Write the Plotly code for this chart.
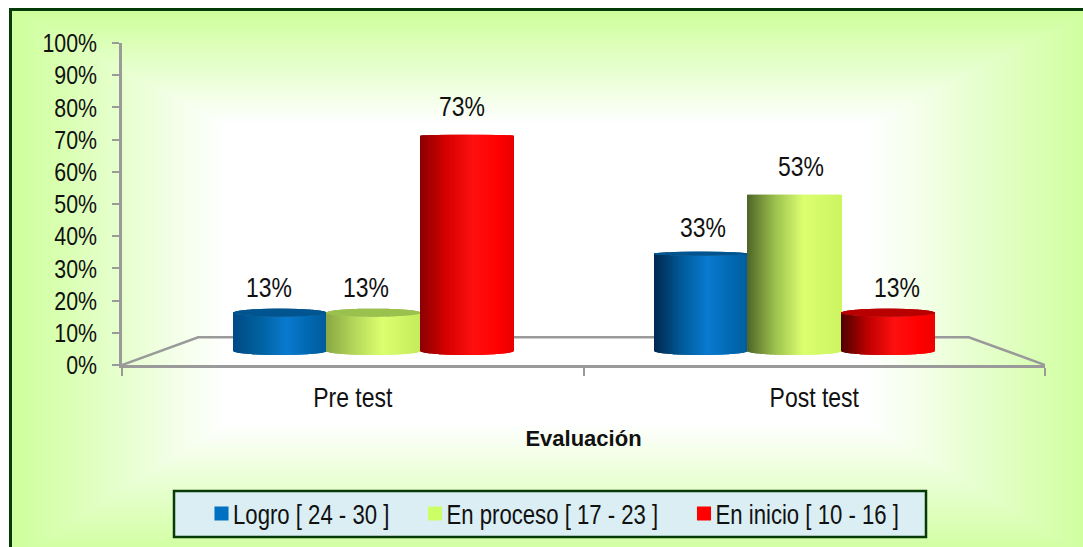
import math
import plotly.graph_objects as go

# ---------- data ----------
categories = ["Pre test", "Post test"]
series_names = ["Logro [ 24 - 30 ]", "En proceso [ 17 - 23 ]", "En inicio [ 10 - 16 ]"]
logro = [13, 33]
en_proceso = [13, 53]
en_inicio = [73, 13]
y_ticks = list(range(0, 101, 10))
y_labels = [f"{v}%" for v in y_ticks]

# ---------- style ----------
W, H = 1083, 547
L, R, T, B = 122, 1045, 43, 365       # plot area in pixels
FONT = "Liberation Sans, Arial"
AXIS = "#9a9a9a"
DARK = "#063a06"
swatch = ["#0070C0", "#CCFF66", "#FF0000"]
ramps = [
    {0: [(0, "#004a86"), (.3, "#00629f"), (.58, "#0a7ad0"), (.85, "#0066ad"), (1, "#005c9c")],
     1: [(0, "#8aa844"), (.3, "#b4d85a"), (.6, "#dcff70"), (1, "#c4ec5c")],
     2: [(0, "#8c0000"), (.3, "#d80000"), (.58, "#ff1010"), (.85, "#ff0000"), (1, "#e80000")]},
    {0: [(0, "#00294f"), (.3, "#005a98"), (.58, "#0a7ad0"), (.85, "#0068b0"), (1, "#005f9f")],
     1: [(0, "#4f6528"), (.3, "#9dc24e"), (.6, "#dcff70"), (1, "#ccf560")],
     2: [(0, "#500000"), (.3, "#c00000"), (.58, "#ff1010"), (.85, "#ff0000"), (1, "#f00000")]},
]
cap_colors = ["#00548f", "#9ac04e", "#b80000"]


def rgb(h):
    return [int(h[i:i + 2], 16) for i in (1, 3, 5)]


def ramp(stops, t):
    for (a, ca), (b, cb) in zip(stops, stops[1:]):
        if t <= b:
            f = (t - a) / (b - a)
            ca, cb = rgb(ca), rgb(cb)
            return "rgb(%d,%d,%d)" % tuple(ca[i] + (cb[i] - ca[i]) * f for i in range(3))
    return stops[-1][1]


def px(x):
    return (x - L) / (R - L)


def py(y):
    return (B - y) / (B - T)


# ---------- background: rectangular gradient built from nested frames ----------
shapes = []
n = 48
c0, c1 = (206, 255, 156), (255, 255, 255)
outer = (12, 11, 1095, 560)
inner = (222, 122, 872, 425)
shapes.append(dict(type="rect", xref="paper", yref="paper", x0=px(9), x1=px(1100), y0=py(8), y1=py(560),
                   fillcolor=DARK, line_width=0, layer="below"))
for i in range(n + 1):
    f = i / n
    box = [outer[k] + (inner[k] - outer[k]) * f for k in range(4)]
    col = "rgb(%d,%d,%d)" % tuple(c0[k] + (c1[k] - c0[k]) * f for k in range(3))
    shapes.append(dict(type="rect", xref="paper", yref="paper", x0=px(box[0]), x1=px(box[2]),
                       y0=py(box[1]), y1=py(box[3]), fillcolor=col, line_width=0, layer="below"))
shapes.append(dict(type="path", xref="x", yref="y", layer="below",
                   path="M -0.5 0 L -0.335 8.6 L 1.335 8.6 L 1.5 0",
                   line=dict(color=AXIS, width=2.5), fillcolor="rgba(0,0,0,0)"))
shapes.append(dict(type="rect", xref="paper", yref="paper", x0=px(174), x1=px(926), y0=py(491), y1=py(537),
                   fillcolor="#DAEEF3", line=dict(color=DARK, width=2.5)))

# ---------- axes used by the cylinders ----------
x2_unit = 421.0
y2_unit = 2.95
y2_zero = 351
x2_first = 373.5
slot = 93.5 / x2_unit

x2_range = [(L - x2_first) / x2_unit, (R - x2_first) / x2_unit]
y2_range = [(y2_zero - B) / y2_unit, (y2_zero - T) / y2_unit]

fig = go.Figure()
values = [logro, en_proceso, en_inicio]
N = 94
label_shift = [[-11, 2], [-8, 6], [-5, 9]]
annotations = []

for s, vals in enumerate(values):
    bx, by, bb, bc, cx, cy, cb, cc = [], [], [], [], [], [], [], []
    for c, v in enumerate(vals):
        center = c + (s - 1) * slot
        for j in range(N):
            u = (j + .5) / N * 2 - 1
            e = math.sqrt(1 - u * u)
            h_cap = abs(53 - v) / 40 * 4 * e / y2_unit
            base = -4.0 * e / y2_unit
            top = v - h_cap if v <= 53 else v + h_cap * .45
            bx.append(center + u * slot / 2)
            bb.append(base)
            by.append(top - base)
            bc.append(ramp(ramps[c][s], (u + 1) / 2))
            if v <= 53:
                cx.append(center + u * slot / 2)
                cb.append(top)
                cy.append(2 * h_cap)
                cc.append(cap_colors[s])
        annotations.append(dict(xref="x2", yref="y2", x=center, y=v, text=f"{v}%", showarrow=False,
                                xshift=label_shift[s][c], yshift=24 + v * .07, yanchor="middle",
                                font=dict(size=28, color="#111", family=FONT)))
    w = slot / N * 1.3
    fig.add_trace(go.Bar(x=bx, y=by, base=bb, width=w, xaxis="x2", yaxis="y2", showlegend=False,
                         marker=dict(color=bc, line_width=0), hoverinfo="skip"))
    fig.add_trace(go.Bar(x=cx, y=cy, base=cb, width=w, xaxis="x2", yaxis="y2", showlegend=False,
                         marker=dict(color=cc, line_width=0), hoverinfo="skip"))

for name, col in zip(series_names, swatch):
    fig.add_trace(go.Bar(x=[0], y=[None], name=name, marker=dict(color=col, line_width=0)))

fig.update_layout(
    width=W, height=H,
    margin=dict(l=L, r=W - R, t=T, b=H - B, pad=0),
    autosize=False,
    paper_bgcolor="white",
    plot_bgcolor="rgba(0,0,0,0)",
    barmode="overlay",
    font=dict(family=FONT, color="#111"),
    shapes=shapes,
    annotations=annotations,
    legend=dict(orientation="h", xref="container", yref="container", x=540 / W, y=(H - 514) / H,
                xanchor="center", yanchor="middle",
                bgcolor="rgba(0,0,0,0)", borderwidth=0, font=dict(size=27, family=FONT, color="#111"),
                itemclick=False, itemdoubleclick=False),
    xaxis=dict(range=[-.5, 1.5], tickvals=[0, 1], ticktext=categories, ticks="", showgrid=False, zeroline=False,
               showline=True, linecolor=AXIS, linewidth=2.5, tickfont=dict(size=28, family=FONT),
               ticklabelstandoff=6, fixedrange=True,
               minor=dict(tickvals=[-.5, .5, 1.5], ticks="outside", ticklen=8, tickwidth=1.5, tickcolor=AXIS),
               title=dict(text="<b>Evaluación</b>", standoff=19,
                          font=dict(size=22, family=FONT, color="#111"))),
    yaxis=dict(range=[0, 100], tickvals=y_ticks, ticktext=y_labels, ticks="outside", ticklen=7, tickwidth=1.5,
               tickcolor=AXIS, showgrid=False, zeroline=False, showline=True, linecolor=AXIS, linewidth=2.5,
               tickfont=dict(size=26, family=FONT), ticklabelstandoff=10, fixedrange=True),
    xaxis2=dict(overlaying="x", range=x2_range, visible=False, fixedrange=True),
    yaxis2=dict(overlaying="y", range=y2_range, visible=False, fixedrange=True),
)

# the reference text is set in a condensed face: squeeze real SVG text, then place the legend entries
POST = """
document.body.style.margin='0';document.documentElement.style.overflow='hidden';
(function(){
  function fix(){
    document.querySelectorAll('svg text').forEach(function(t){
      if(t.querySelector('tspan')||t.getAttribute('textLength'))return;
      var w=t.getComputedTextLength();
      if(w>0){t.setAttribute('textLength',w*0.82);t.setAttribute('lengthAdjust','spacingAndGlyphs');}
    });
    var xs=[221.5,435,704];
    document.querySelectorAll('.legend .traces').forEach(function(tr,i){
      var e=tr.parentNode.getScreenCTM().e;
      var m=/translate\\(([^,]+),\\s*([^)]+)\\)/.exec(tr.getAttribute('transform')||'');
      tr.setAttribute('transform','translate('+(xs[i]-e-20)+','+(m?m[2]:0)+')');
      var tx=tr.querySelector('text');if(tx)tx.setAttribute('x',31.5);
      var p=tr.querySelector('.legendpoints path');
      if(p)p.setAttribute('transform','translate(20,0) scale(1.17)');
    });
  }
  fix();setTimeout(fix,60);
})();
"""
fig.write_html("out.html", config=dict(displayModeBar=False), post_script=POST)
